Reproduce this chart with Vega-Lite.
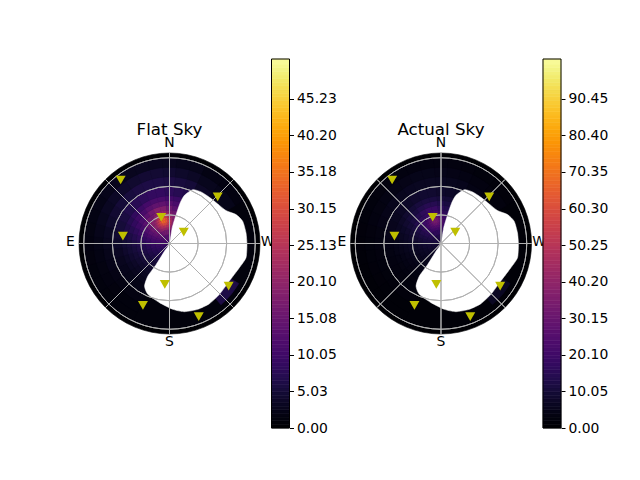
{
"$schema": "https://vega.github.io/schema/vega-lite/v6.json",
"padding": {"left": 66, "top": 58, "right": 0, "bottom": 0},
"bounds": "flush",
"background": "white",
"config": {"font": "DejaVu Sans"},
"datasets": {
"sky": [
{"a":0,"a2":360,"r":90,"r2":95,"v":0},
{"a":0,"a2":360,"r":0,"r2":90,"v":0.9},
{"a":15,"a2":25,"r":50,"r2":60,"v":6.5},{"a":15,"a2":25,"r":60,"r2":70,"v":4.8},{"a":15,"a2":25,"r":70,"r2":80,"v":3.3},{"a":15,"a2":25,"r":80,"r2":90,"v":2.3},
{"a":25,"a2":40,"r":60,"r2":70,"v":3.5},{"a":25,"a2":40,"r":70,"r2":80,"v":2.6},{"a":25,"a2":40,"r":80,"r2":90,"v":1.7},
{"a":40,"a2":60,"r":65,"r2":80,"v":2.2},{"a":40,"a2":60,"r":80,"r2":90,"v":1.3},
{"a":120,"a2":140,"r":72,"r2":84,"v":6},
{"a":205,"a2":225,"r":0,"r2":5,"v":8.9},{"a":225,"a2":235,"r":0,"r2":5,"v":9},{"a":235,"a2":245,"r":0,"r2":5,"v":9.1},{"a":245,"a2":255,"r":0,"r2":5,"v":9.4},{"a":255,"a2":265,"r":0,"r2":5,"v":9.6},{"a":265,"a2":275,"r":0,"r2":5,"v":9.7},{"a":275,"a2":285,"r":0,"r2":5,"v":10},{"a":285,"a2":295,"r":0,"r2":5,"v":10.2},{"a":295,"a2":305,"r":0,"r2":5,"v":10.4},{"a":305,"a2":315,"r":0,"r2":5,"v":10.4},{"a":315,"a2":325,"r":0,"r2":5,"v":10.6},{"a":325,"a2":335,"r":0,"r2":5,"v":10.7},{"a":335,"a2":345,"r":0,"r2":5,"v":10.7},{"a":345,"a2":355,"r":0,"r2":5,"v":10.7},{"a":355,"a2":365,"r":0,"r2":5,"v":10.7},{"a":365,"a2":375,"r":0,"r2":5,"v":10.6},
{"a":205,"a2":225,"r":5,"r2":10,"v":7.8},{"a":225,"a2":235,"r":5,"r2":10,"v":8.2},{"a":235,"a2":245,"r":5,"r2":10,"v":8.5},{"a":245,"a2":255,"r":5,"r2":10,"v":8.9},{"a":255,"a2":265,"r":5,"r2":10,"v":9.3},{"a":265,"a2":275,"r":5,"r2":10,"v":9.7},{"a":275,"a2":285,"r":5,"r2":10,"v":10.3},{"a":285,"a2":295,"r":5,"r2":10,"v":10.8},{"a":295,"a2":305,"r":5,"r2":10,"v":11.2},{"a":305,"a2":315,"r":5,"r2":10,"v":11.7},{"a":315,"a2":325,"r":5,"r2":10,"v":12.2},{"a":325,"a2":335,"r":5,"r2":10,"v":12.6},{"a":335,"a2":345,"r":5,"r2":10,"v":12.8},{"a":345,"a2":355,"r":5,"r2":10,"v":12.8},{"a":355,"a2":365,"r":5,"r2":10,"v":12.6},{"a":365,"a2":375,"r":5,"r2":10,"v":12.2},
{"a":205,"a2":225,"r":10,"r2":15,"v":6.9},{"a":225,"a2":235,"r":10,"r2":15,"v":7.1},{"a":235,"a2":245,"r":10,"r2":15,"v":7.7},{"a":245,"a2":255,"r":10,"r2":15,"v":8.2},{"a":255,"a2":265,"r":10,"r2":15,"v":8.8},{"a":265,"a2":275,"r":10,"r2":15,"v":9.6},{"a":275,"a2":285,"r":10,"r2":15,"v":10.2},{"a":285,"a2":295,"r":10,"r2":15,"v":11.2},{"a":295,"a2":305,"r":10,"r2":15,"v":12.4},{"a":305,"a2":315,"r":10,"r2":15,"v":13.6},{"a":315,"a2":325,"r":10,"r2":15,"v":14.6},{"a":325,"a2":335,"r":10,"r2":15,"v":15.5},{"a":335,"a2":345,"r":10,"r2":15,"v":16.1},{"a":345,"a2":355,"r":10,"r2":15,"v":16.1},{"a":355,"a2":365,"r":10,"r2":15,"v":15.4},{"a":365,"a2":375,"r":10,"r2":15,"v":14.5},
{"a":205,"a2":225,"r":15,"r2":20,"v":6},{"a":225,"a2":235,"r":15,"r2":20,"v":6.4},{"a":235,"a2":245,"r":15,"r2":20,"v":6.8},{"a":245,"a2":255,"r":15,"r2":20,"v":7.4},{"a":255,"a2":265,"r":15,"r2":20,"v":8.2},{"a":265,"a2":275,"r":15,"r2":20,"v":9},{"a":275,"a2":285,"r":15,"r2":20,"v":10.1},{"a":285,"a2":295,"r":15,"r2":20,"v":11.2},{"a":295,"a2":305,"r":15,"r2":20,"v":13},{"a":305,"a2":315,"r":15,"r2":20,"v":14.8},{"a":315,"a2":325,"r":15,"r2":20,"v":17.4},{"a":365,"a2":375,"r":15,"r2":20,"v":17.1},
{"a":205,"a2":225,"r":20,"r2":25,"v":5.2},{"a":225,"a2":235,"r":20,"r2":25,"v":5.7},{"a":235,"a2":245,"r":20,"r2":25,"v":6},{"a":245,"a2":255,"r":20,"r2":25,"v":6.6},{"a":255,"a2":265,"r":20,"r2":25,"v":7.3},{"a":265,"a2":275,"r":20,"r2":25,"v":8.3},{"a":275,"a2":285,"r":20,"r2":25,"v":9.4},{"a":285,"a2":295,"r":20,"r2":25,"v":10.9},{"a":295,"a2":305,"r":20,"r2":25,"v":12.7},{"a":305,"a2":315,"r":20,"r2":25,"v":15.1},{"a":315,"a2":325,"r":20,"r2":25,"v":19.1},{"a":365,"a2":375,"r":20,"r2":25,"v":18.7},
{"a":205,"a2":225,"r":25,"r2":30,"v":4.6},{"a":225,"a2":235,"r":25,"r2":30,"v":4.9},{"a":235,"a2":245,"r":25,"r2":30,"v":5.3},{"a":245,"a2":255,"r":25,"r2":30,"v":5.8},{"a":255,"a2":265,"r":25,"r2":30,"v":6.5},{"a":265,"a2":275,"r":25,"r2":30,"v":7.4},{"a":275,"a2":285,"r":25,"r2":30,"v":8.5},{"a":285,"a2":295,"r":25,"r2":30,"v":10},{"a":295,"a2":305,"r":25,"r2":30,"v":11.7},{"a":305,"a2":315,"r":25,"r2":30,"v":14.4},{"a":315,"a2":325,"r":25,"r2":30,"v":18.5},{"a":365,"a2":375,"r":25,"r2":30,"v":17.9},
{"a":205,"a2":225,"r":30,"r2":35,"v":3.9},{"a":225,"a2":235,"r":30,"r2":35,"v":4.4},{"a":235,"a2":245,"r":30,"r2":35,"v":4.7},{"a":245,"a2":255,"r":30,"r2":35,"v":5.2},{"a":255,"a2":265,"r":30,"r2":35,"v":5.8},{"a":265,"a2":275,"r":30,"r2":35,"v":6.5},{"a":275,"a2":285,"r":30,"r2":35,"v":7.6},{"a":285,"a2":295,"r":30,"r2":35,"v":8.9},{"a":295,"a2":305,"r":30,"r2":35,"v":10.6},{"a":305,"a2":315,"r":30,"r2":35,"v":12.9},{"a":315,"a2":325,"r":30,"r2":35,"v":15.7},{"a":365,"a2":375,"r":30,"r2":35,"v":15.3},
{"a":325,"a2":330,"r":15,"r2":17.5,"v":18.8},{"a":330,"a2":335,"r":15,"r2":17.5,"v":19.8},{"a":335,"a2":340,"r":15,"r2":17.5,"v":20.4},{"a":340,"a2":345,"r":15,"r2":17.5,"v":20.8},{"a":345,"a2":350,"r":15,"r2":17.5,"v":20.9},{"a":350,"a2":355,"r":15,"r2":17.5,"v":20.7},{"a":355,"a2":360,"r":15,"r2":17.5,"v":20},{"a":360,"a2":365,"r":15,"r2":17.5,"v":19},
{"a":325,"a2":330,"r":17.5,"r2":20,"v":21},{"a":330,"a2":335,"r":17.5,"r2":20,"v":22.6},{"a":335,"a2":340,"r":17.5,"r2":20,"v":23.6},{"a":340,"a2":345,"r":17.5,"r2":20,"v":24.5},{"a":345,"a2":350,"r":17.5,"r2":20,"v":24.6},{"a":350,"a2":355,"r":17.5,"r2":20,"v":24},{"a":355,"a2":360,"r":17.5,"r2":20,"v":23},{"a":360,"a2":365,"r":17.5,"r2":20,"v":21.5},
{"a":325,"a2":330,"r":20,"r2":22.5,"v":22.2},{"a":330,"a2":335,"r":20,"r2":22.5,"v":24.7},{"a":335,"a2":340,"r":20,"r2":22.5,"v":27},{"a":340,"a2":345,"r":20,"r2":22.5,"v":29},{"a":345,"a2":350,"r":20,"r2":22.5,"v":29.4},{"a":350,"a2":355,"r":20,"r2":22.5,"v":28},{"a":355,"a2":360,"r":20,"r2":22.5,"v":25.5},{"a":360,"a2":365,"r":20,"r2":22.5,"v":23.4},
{"a":325,"a2":330,"r":22.5,"r2":25,"v":22.3},{"a":330,"a2":335,"r":22.5,"r2":25,"v":25.5},{"a":335,"a2":340,"r":22.5,"r2":25,"v":29.6},{"a":340,"a2":345,"r":22.5,"r2":25,"v":33},{"a":345,"a2":350,"r":22.5,"r2":25,"v":33.3},{"a":350,"a2":355,"r":22.5,"r2":25,"v":31},{"a":355,"a2":360,"r":22.5,"r2":25,"v":27},{"a":360,"a2":365,"r":22.5,"r2":25,"v":23.7},
{"a":325,"a2":330,"r":25,"r2":27.5,"v":21.1},{"a":330,"a2":335,"r":25,"r2":27.5,"v":24.5},{"a":335,"a2":340,"r":25,"r2":27.5,"v":28.8},{"a":340,"a2":345,"r":25,"r2":27.5,"v":33},{"a":345,"a2":350,"r":25,"r2":27.5,"v":33.3},{"a":350,"a2":355,"r":25,"r2":27.5,"v":30.6},{"a":355,"a2":360,"r":25,"r2":27.5,"v":26.2},{"a":360,"a2":365,"r":25,"r2":27.5,"v":22.4},
{"a":325,"a2":330,"r":27.5,"r2":30,"v":19},{"a":330,"a2":335,"r":27.5,"r2":30,"v":22.3},{"a":335,"a2":340,"r":27.5,"r2":30,"v":25.5},{"a":340,"a2":345,"r":27.5,"r2":30,"v":28.8},{"a":345,"a2":350,"r":27.5,"r2":30,"v":29.4},{"a":350,"a2":355,"r":27.5,"r2":30,"v":27},{"a":355,"a2":360,"r":27.5,"r2":30,"v":23.9},{"a":360,"a2":365,"r":27.5,"r2":30,"v":20.4},
{"a":325,"a2":330,"r":30,"r2":32.5,"v":17},{"a":330,"a2":335,"r":30,"r2":32.5,"v":19.5},{"a":335,"a2":340,"r":30,"r2":32.5,"v":22.5},{"a":340,"a2":345,"r":30,"r2":32.5,"v":24.3},{"a":345,"a2":350,"r":30,"r2":32.5,"v":24.5},{"a":350,"a2":355,"r":30,"r2":32.5,"v":23.4},{"a":355,"a2":360,"r":30,"r2":32.5,"v":20.8},{"a":360,"a2":365,"r":30,"r2":32.5,"v":18.2},
{"a":325,"a2":330,"r":32.5,"r2":35,"v":15.5},{"a":330,"a2":335,"r":32.5,"r2":35,"v":17.1},{"a":335,"a2":340,"r":32.5,"r2":35,"v":18.9},{"a":340,"a2":345,"r":32.5,"r2":35,"v":20.5},{"a":345,"a2":350,"r":32.5,"r2":35,"v":20.8},{"a":350,"a2":355,"r":32.5,"r2":35,"v":19.8},{"a":355,"a2":360,"r":32.5,"r2":35,"v":18},{"a":360,"a2":365,"r":32.5,"r2":35,"v":16.2},
{"a":205,"a2":225,"r":35,"r2":40,"v":3.4},{"a":225,"a2":235,"r":35,"r2":40,"v":3.7},{"a":235,"a2":245,"r":35,"r2":40,"v":4.1},{"a":245,"a2":255,"r":35,"r2":40,"v":4.6},{"a":255,"a2":265,"r":35,"r2":40,"v":5.1},{"a":265,"a2":275,"r":35,"r2":40,"v":5.8},{"a":275,"a2":285,"r":35,"r2":40,"v":6.7},{"a":285,"a2":295,"r":35,"r2":40,"v":7.8},{"a":295,"a2":305,"r":35,"r2":40,"v":9.3},{"a":305,"a2":315,"r":35,"r2":40,"v":11},{"a":315,"a2":325,"r":35,"r2":40,"v":13.3},{"a":325,"a2":335,"r":35,"r2":40,"v":15.7},{"a":335,"a2":345,"r":35,"r2":40,"v":18.1},{"a":345,"a2":355,"r":35,"r2":40,"v":17.8},{"a":355,"a2":365,"r":35,"r2":40,"v":15.4},{"a":365,"a2":375,"r":35,"r2":40,"v":13.1},
{"a":205,"a2":225,"r":40,"r2":45,"v":2.9},{"a":225,"a2":235,"r":40,"r2":45,"v":3.1},{"a":235,"a2":245,"r":40,"r2":45,"v":3.5},{"a":245,"a2":255,"r":40,"r2":45,"v":4},{"a":255,"a2":265,"r":40,"r2":45,"v":4.5},{"a":265,"a2":275,"r":40,"r2":45,"v":5.1},{"a":275,"a2":285,"r":40,"r2":45,"v":5.9},{"a":285,"a2":295,"r":40,"r2":45,"v":6.9},{"a":295,"a2":305,"r":40,"r2":45,"v":8.2},{"a":305,"a2":315,"r":40,"r2":45,"v":9.6},{"a":315,"a2":325,"r":40,"r2":45,"v":11},{"a":325,"a2":335,"r":40,"r2":45,"v":12.8},{"a":335,"a2":345,"r":40,"r2":45,"v":13.9},{"a":345,"a2":355,"r":40,"r2":45,"v":13.9},{"a":355,"a2":365,"r":40,"r2":45,"v":12.6},{"a":365,"a2":375,"r":40,"r2":45,"v":11},
{"a":205,"a2":225,"r":45,"r2":50,"v":2.4},{"a":225,"a2":235,"r":45,"r2":50,"v":2.7},{"a":235,"a2":245,"r":45,"r2":50,"v":3},{"a":245,"a2":255,"r":45,"r2":50,"v":3.4},{"a":255,"a2":265,"r":45,"r2":50,"v":3.9},{"a":265,"a2":275,"r":45,"r2":50,"v":4.5},{"a":275,"a2":285,"r":45,"r2":50,"v":5.2},{"a":285,"a2":295,"r":45,"r2":50,"v":6},{"a":295,"a2":305,"r":45,"r2":50,"v":7},{"a":305,"a2":315,"r":45,"r2":50,"v":8.2},{"a":315,"a2":325,"r":45,"r2":50,"v":9.3},{"a":325,"a2":335,"r":45,"r2":50,"v":10.4},{"a":335,"a2":345,"r":45,"r2":50,"v":11},{"a":345,"a2":355,"r":45,"r2":50,"v":11},{"a":355,"a2":365,"r":45,"r2":50,"v":10.2},{"a":365,"a2":375,"r":45,"r2":50,"v":9.2},
{"a":205,"a2":225,"r":50,"r2":60,"v":2},{"a":225,"a2":235,"r":50,"r2":60,"v":2.2},{"a":235,"a2":245,"r":50,"r2":60,"v":2.4},{"a":245,"a2":255,"r":50,"r2":60,"v":2.7},{"a":255,"a2":265,"r":50,"r2":60,"v":3.1},{"a":265,"a2":275,"r":50,"r2":60,"v":3.7},{"a":275,"a2":285,"r":50,"r2":60,"v":4.3},{"a":285,"a2":295,"r":50,"r2":60,"v":4.9},{"a":295,"a2":305,"r":50,"r2":60,"v":5.6},{"a":305,"a2":315,"r":50,"r2":60,"v":6.4},{"a":315,"a2":325,"r":50,"r2":60,"v":7.2},{"a":325,"a2":335,"r":50,"r2":60,"v":7.9},{"a":335,"a2":345,"r":50,"r2":60,"v":8.4},{"a":345,"a2":355,"r":50,"r2":60,"v":8.4},{"a":355,"a2":365,"r":50,"r2":60,"v":7.8},{"a":365,"a2":375,"r":50,"r2":60,"v":7.1},
{"a":205,"a2":225,"r":60,"r2":70,"v":1.5},{"a":225,"a2":235,"r":60,"r2":70,"v":1.6},{"a":235,"a2":245,"r":60,"r2":70,"v":1.8},{"a":245,"a2":255,"r":60,"r2":70,"v":2.1},{"a":255,"a2":265,"r":60,"r2":70,"v":2.3},{"a":265,"a2":275,"r":60,"r2":70,"v":2.7},{"a":275,"a2":285,"r":60,"r2":70,"v":3},{"a":285,"a2":295,"r":60,"r2":70,"v":3.7},{"a":295,"a2":305,"r":60,"r2":70,"v":4.3},{"a":305,"a2":315,"r":60,"r2":70,"v":4.8},{"a":315,"a2":325,"r":60,"r2":70,"v":5.2},{"a":325,"a2":335,"r":60,"r2":70,"v":5.7},{"a":335,"a2":345,"r":60,"r2":70,"v":5.9},{"a":345,"a2":355,"r":60,"r2":70,"v":5.9},{"a":355,"a2":365,"r":60,"r2":70,"v":5.7},{"a":365,"a2":375,"r":60,"r2":70,"v":5.2},
{"a":205,"a2":225,"r":70,"r2":80,"v":1},{"a":225,"a2":235,"r":70,"r2":80,"v":1.1},{"a":235,"a2":245,"r":70,"r2":80,"v":1.3},{"a":245,"a2":255,"r":70,"r2":80,"v":1.5},{"a":255,"a2":265,"r":70,"r2":80,"v":1.7},{"a":265,"a2":275,"r":70,"r2":80,"v":2},{"a":275,"a2":285,"r":70,"r2":80,"v":2.3},{"a":285,"a2":295,"r":70,"r2":80,"v":2.6},{"a":295,"a2":305,"r":70,"r2":80,"v":3},{"a":305,"a2":315,"r":70,"r2":80,"v":3.4},{"a":315,"a2":325,"r":70,"r2":80,"v":3.8},{"a":325,"a2":335,"r":70,"r2":80,"v":4.1},{"a":335,"a2":345,"r":70,"r2":80,"v":4.4},{"a":345,"a2":355,"r":70,"r2":80,"v":4.4},{"a":355,"a2":365,"r":70,"r2":80,"v":4.2},{"a":365,"a2":375,"r":70,"r2":80,"v":3.7},
{"a":205,"a2":225,"r":80,"r2":90,"v":0.9},{"a":225,"a2":235,"r":80,"r2":90,"v":0.9},{"a":235,"a2":245,"r":80,"r2":90,"v":1},{"a":245,"a2":255,"r":80,"r2":90,"v":1},{"a":255,"a2":265,"r":80,"r2":90,"v":1.1},{"a":265,"a2":275,"r":80,"r2":90,"v":1.3},{"a":275,"a2":285,"r":80,"r2":90,"v":1.5},{"a":285,"a2":295,"r":80,"r2":90,"v":1.7},{"a":295,"a2":305,"r":80,"r2":90,"v":2},{"a":305,"a2":315,"r":80,"r2":90,"v":2.3},{"a":315,"a2":325,"r":80,"r2":90,"v":2.5},{"a":325,"a2":335,"r":80,"r2":90,"v":2.7},{"a":335,"a2":345,"r":80,"r2":90,"v":2.8},{"a":345,"a2":355,"r":80,"r2":90,"v":2.8},{"a":355,"a2":365,"r":80,"r2":90,"v":2.7},{"a":365,"a2":375,"r":80,"r2":90,"v":2.4}
],
"mask": [
{"i":0,"x":0,"y":0},{"i":1,"x":2.8,"y":16.4},{"i":2,"x":7,"y":30.4},{"i":3,"x":11.2,"y":42.6},{"i":4,"x":15.7,"y":50.6},{"i":5,"x":24.4,"y":56.5},{"i":6,"x":33.2,"y":54.1},{"i":7,"x":41.9,"y":48.5},{"i":8,"x":50.6,"y":41.5},{"i":9,"x":59.3,"y":34.6},{"i":10,"x":69.8,"y":30.4},{"i":11,"x":76.8,"y":23.4},{"i":12,"x":80.3,"y":11.2},{"i":13,"x":81.3,"y":-1},{"i":14,"x":80.3,"y":-15},{"i":15,"x":73.3,"y":-25.5},{"i":16,"x":62.8,"y":-39.4},{"i":17,"x":52.4,"y":-53.4},{"i":18,"x":41.9,"y":-63.2},{"i":19,"x":29.7,"y":-69.1},{"i":20,"x":15.7,"y":-71.6},{"i":21,"x":3.5,"y":-69.1},{"i":22,"x":-10.5,"y":-62.1},{"i":23,"x":-22.7,"y":-53.4},{"i":24,"x":-26.2,"y":-44.7},{"i":25,"x":-22.7,"y":-34.2},{"i":26,"x":-14,"y":-22},{"i":27,"x":-5.2,"y":-8}
],
"grid": [
{"a":0,"a2":360,"r":30,"r2":30},{"a":0,"a2":360,"r":60,"r2":60},{"a":0,"a2":360,"r":90,"r2":90},
{"a":0,"a2":0,"r":0,"r2":95},{"a":45,"a2":45,"r":0,"r2":95},{"a":90,"a2":90,"r":0,"r2":95},{"a":135,"a2":135,"r":0,"r2":95},{"a":180,"a2":180,"r":0,"r2":95},{"a":225,"a2":225,"r":0,"r2":95},{"a":270,"a2":270,"r":0,"r2":95},{"a":315,"a2":315,"r":0,"r2":95}
],
"stars": [
{"x":-51.3,"y":66.7},{"x":50.6,"y":48.9},{"x":-8.7,"y":27.6},{"x":15,"y":11.9},{"x":-48.9,"y":7.7},{"x":-4.9,"y":-42.9},{"x":62.1,"y":-44.7},{"x":-27.9,"y":-64.9},{"x":30.7,"y":-76.8}
],
"compass": [
{"x":0,"y":106,"t":"N"},{"x":-104,"y":2,"t":"E"},{"x":0,"y":-103,"t":"S"},{"x":103,"y":2,"t":"W"}
],
"frame1": [{"v":0,"v2":50.7}],
"frame2": [{"v":0,"v2":101.4}],
"bar1": [
{"v":0,"v2":0.5},{"v":0.5,"v2":1},{"v":1,"v2":1.5},{"v":1.5,"v2":2},{"v":2,"v2":2.5},{"v":2.5,"v2":3},{"v":3,"v2":3.5},{"v":3.5,"v2":4},{"v":4,"v2":4.5},{"v":4.5,"v2":5},{"v":5,"v2":5.5},{"v":5.5,"v2":6},{"v":6,"v2":6.5},{"v":6.5,"v2":7},{"v":7,"v2":7.5},{"v":7.5,"v2":8},{"v":8,"v2":8.5},{"v":8.5,"v2":9},{"v":9,"v2":9.5},{"v":9.5,"v2":10},{"v":10,"v2":10.5},{"v":10.5,"v2":11},{"v":11,"v2":11.5},{"v":11.5,"v2":12},{"v":12,"v2":12.5},{"v":12.5,"v2":13},{"v":13,"v2":13.5},{"v":13.5,"v2":14},{"v":14,"v2":14.5},{"v":14.5,"v2":15},{"v":15,"v2":15.5},{"v":15.5,"v2":16},{"v":16,"v2":16.5},{"v":16.5,"v2":17},{"v":17,"v2":17.5},{"v":17.5,"v2":18},{"v":18,"v2":18.5},{"v":18.5,"v2":19},{"v":19,"v2":19.5},{"v":19.5,"v2":20},{"v":20,"v2":20.5},{"v":20.5,"v2":21},{"v":21,"v2":21.5},{"v":21.5,"v2":22},{"v":22,"v2":22.5},{"v":22.5,"v2":23},{"v":23,"v2":23.5},{"v":23.5,"v2":24},{"v":24,"v2":24.5},{"v":24.5,"v2":25},{"v":25,"v2":25.5},{"v":25.5,"v2":26},{"v":26,"v2":26.5},{"v":26.5,"v2":27},{"v":27,"v2":27.5},{"v":27.5,"v2":28},{"v":28,"v2":28.5},{"v":28.5,"v2":29},{"v":29,"v2":29.5},{"v":29.5,"v2":30},{"v":30,"v2":30.5},{"v":30.5,"v2":31},{"v":31,"v2":31.5},{"v":31.5,"v2":32},{"v":32,"v2":32.5},{"v":32.5,"v2":33},{"v":33,"v2":33.5},{"v":33.5,"v2":34},{"v":34,"v2":34.5},{"v":34.5,"v2":35},{"v":35,"v2":35.5},{"v":35.5,"v2":36},{"v":36,"v2":36.5},{"v":36.5,"v2":37},{"v":37,"v2":37.5},{"v":37.5,"v2":38},{"v":38,"v2":38.5},{"v":38.5,"v2":39},{"v":39,"v2":39.5},{"v":39.5,"v2":40},{"v":40,"v2":40.5},{"v":40.5,"v2":41},{"v":41,"v2":41.5},{"v":41.5,"v2":42},{"v":42,"v2":42.5},{"v":42.5,"v2":43},{"v":43,"v2":43.5},{"v":43.5,"v2":44},{"v":44,"v2":44.5},{"v":44.5,"v2":45},{"v":45,"v2":45.5},{"v":45.5,"v2":46},{"v":46,"v2":46.5},{"v":46.5,"v2":47},{"v":47,"v2":47.5},{"v":47.5,"v2":48},{"v":48,"v2":48.5},{"v":48.5,"v2":49},{"v":49,"v2":49.5},{"v":49.5,"v2":50},{"v":50,"v2":50.7}
],
"bar2": [
{"v":0,"v2":1},{"v":1,"v2":2},{"v":2,"v2":3},{"v":3,"v2":4},{"v":4,"v2":5},{"v":5,"v2":6},{"v":6,"v2":7},{"v":7,"v2":8},{"v":8,"v2":9},{"v":9,"v2":10},{"v":10,"v2":11},{"v":11,"v2":12},{"v":12,"v2":13},{"v":13,"v2":14},{"v":14,"v2":15},{"v":15,"v2":16},{"v":16,"v2":17},{"v":17,"v2":18},{"v":18,"v2":19},{"v":19,"v2":20},{"v":20,"v2":21},{"v":21,"v2":22},{"v":22,"v2":23},{"v":23,"v2":24},{"v":24,"v2":25},{"v":25,"v2":26},{"v":26,"v2":27},{"v":27,"v2":28},{"v":28,"v2":29},{"v":29,"v2":30},{"v":30,"v2":31},{"v":31,"v2":32},{"v":32,"v2":33},{"v":33,"v2":34},{"v":34,"v2":35},{"v":35,"v2":36},{"v":36,"v2":37},{"v":37,"v2":38},{"v":38,"v2":39},{"v":39,"v2":40},{"v":40,"v2":41},{"v":41,"v2":42},{"v":42,"v2":43},{"v":43,"v2":44},{"v":44,"v2":45},{"v":45,"v2":46},{"v":46,"v2":47},{"v":47,"v2":48},{"v":48,"v2":49},{"v":49,"v2":50},{"v":50,"v2":51},{"v":51,"v2":52},{"v":52,"v2":53},{"v":53,"v2":54},{"v":54,"v2":55},{"v":55,"v2":56},{"v":56,"v2":57},{"v":57,"v2":58},{"v":58,"v2":59},{"v":59,"v2":60},{"v":60,"v2":61},{"v":61,"v2":62},{"v":62,"v2":63},{"v":63,"v2":64},{"v":64,"v2":65},{"v":65,"v2":66},{"v":66,"v2":67},{"v":67,"v2":68},{"v":68,"v2":69},{"v":69,"v2":70},{"v":70,"v2":71},{"v":71,"v2":72},{"v":72,"v2":73},{"v":73,"v2":74},{"v":74,"v2":75},{"v":75,"v2":76},{"v":76,"v2":77},{"v":77,"v2":78},{"v":78,"v2":79},{"v":79,"v2":80},{"v":80,"v2":81},{"v":81,"v2":82},{"v":82,"v2":83},{"v":83,"v2":84},{"v":84,"v2":85},{"v":85,"v2":86},{"v":86,"v2":87},{"v":87,"v2":88},{"v":88,"v2":89},{"v":89,"v2":90},{"v":90,"v2":91},{"v":91,"v2":92},{"v":92,"v2":93},{"v":93,"v2":94},{"v":94,"v2":95},{"v":95,"v2":96},{"v":96,"v2":97},{"v":97,"v2":98},{"v":98,"v2":99},{"v":99,"v2":100},{"v":100,"v2":101.4}
]
},
"resolve": {"scale": {"fill": "independent", "stroke": "independent"}},
"spacing": 11.5,
"hconcat": [
{
"width": 181, "height": 369,
"view": {"stroke": null},
"title": {"text": "Flat Sky", "fontSize": 16.7, "fontWeight": "normal", "font": "DejaVu Sans", "color": "black", "offset": -80, "anchor": "middle"},
"layer": [
{"data": {"name": "sky"},
"mark": {"type": "arc", "strokeWidth": 0.6},
"encoding": {
"theta": {"field": "a", "type": "quantitative", "stack": null, "scale": {"domain": [0, 360], "range": [0, 6.2832]}},
"theta2": {"field": "a2"},
"radius": {"field": "r2", "type": "quantitative", "scale": {"type": "linear", "domain": [0, 95], "range": [0, 90.5]}},
"radius2": {"field": "r"},
"fill": {"field": "v", "type": "quantitative", "scale": {"scheme": "inferno", "domain": [0, 50.7]}, "legend": null},
"stroke": {"field": "v", "type": "quantitative", "scale": {"scheme": "inferno", "domain": [0, 50.7]}, "legend": null}
}},
{"data": {"name": "mask"},
"mark": {"type": "line", "interpolate": "cardinal-closed", "tension": 0.4, "fill": "white", "stroke": "white", "strokeWidth": 0.5},
"encoding": {
"x": {"field": "x", "type": "quantitative", "axis": null, "scale": {"domain": [-95, 95], "nice": false, "zero": false}},
"y": {"field": "y", "type": "quantitative", "axis": null, "scale": {"domain": [-193.7, 193.7], "nice": false, "zero": false}},
"order": {"field": "i"}
}},
{"data": {"name": "grid"},
"mark": {"type": "arc", "fill": null, "stroke": "#b0b0b0", "strokeWidth": 1},
"encoding": {
"theta": {"field": "a", "type": "quantitative", "stack": null},
"theta2": {"field": "a2"},
"radius": {"field": "r2", "type": "quantitative"},
"radius2": {"field": "r"}
}},
{"data": {"name": "stars"},
"mark": {"type": "point", "shape": "triangle-down", "filled": true, "opacity": 1, "color": "#bfbf00", "size": 100},
"encoding": {
"x": {"field": "x", "type": "quantitative", "axis": null},
"y": {"field": "y", "type": "quantitative", "axis": null}
}},
{"data": {"name": "compass"},
"mark": {"type": "text", "fontSize": 13.9, "font": "DejaVu Sans", "color": "black", "baseline": "middle"},
"encoding": {
"x": {"field": "x", "type": "quantitative", "axis": null},
"y": {"field": "y", "type": "quantitative", "axis": null},
"text": {"field": "t"}
}}
]
},
{
"width": 18, "height": 369,
"view": {"stroke": null},
"layer": [
{"data": {"name": "bar1"},
"mark": {"type": "rect", "strokeWidth": 0.6},
"encoding": {
"y": {"field": "v", "type": "quantitative", "scale": {"domain": [0, 50.7], "nice": false, "zero": false},
"axis": {"orient": "right", "title": null, "grid": false, "domain": false, "values": [0, 5.03, 10.05, 15.08, 20.1, 25.13, 30.15, 35.18, 40.2, 45.23], "format": ".2f", "labelFontSize": 13.9, "labelFont": "DejaVu Sans", "labelColor": "black", "tickColor": "black", "tickSize": 4, "labelPadding": 3, "labelOverlap": false, "labelFlush": false}},
"y2": {"field": "v2"},
"fill": {"field": "v", "type": "quantitative", "scale": {"scheme": "inferno", "domain": [0, 50.7]}, "legend": null},
"stroke": {"field": "v", "type": "quantitative", "scale": {"scheme": "inferno", "domain": [0, 50.7]}, "legend": null}
}},
{"data": {"name": "frame1"},
"mark": {"type": "rect", "fill": null, "stroke": "black", "strokeWidth": 1},
"encoding": {
"y": {"field": "v", "type": "quantitative"},
"y2": {"field": "v2"}
}}
]
},
{
"width": 37.5, "height": 369,
"view": {"stroke": null},
"data": {"values": []},
"mark": "point"
},
{
"width": 181, "height": 369,
"view": {"stroke": null},
"title": {"text": "Actual Sky", "fontSize": 16.7, "fontWeight": "normal", "font": "DejaVu Sans", "color": "black", "offset": -80, "anchor": "middle"},
"layer": [
{"data": {"name": "sky"},
"mark": {"type": "arc", "strokeWidth": 0.6},
"encoding": {
"theta": {"field": "a", "type": "quantitative", "stack": null, "scale": {"domain": [0, 360], "range": [0, 6.2832]}},
"theta2": {"field": "a2"},
"radius": {"field": "r2", "type": "quantitative", "scale": {"type": "linear", "domain": [0, 95], "range": [0, 90.5]}},
"radius2": {"field": "r"},
"fill": {"field": "v", "type": "quantitative", "scale": {"scheme": "inferno", "domain": [0, 101.4]}, "legend": null},
"stroke": {"field": "v", "type": "quantitative", "scale": {"scheme": "inferno", "domain": [0, 101.4]}, "legend": null}
}},
{"data": {"name": "mask"},
"mark": {"type": "line", "interpolate": "cardinal-closed", "tension": 0.4, "fill": "white", "stroke": "white", "strokeWidth": 0.5},
"encoding": {
"x": {"field": "x", "type": "quantitative", "axis": null, "scale": {"domain": [-95, 95], "nice": false, "zero": false}},
"y": {"field": "y", "type": "quantitative", "axis": null, "scale": {"domain": [-193.7, 193.7], "nice": false, "zero": false}},
"order": {"field": "i"}
}},
{"data": {"name": "grid"},
"mark": {"type": "arc", "fill": null, "stroke": "#b0b0b0", "strokeWidth": 1},
"encoding": {
"theta": {"field": "a", "type": "quantitative", "stack": null},
"theta2": {"field": "a2"},
"radius": {"field": "r2", "type": "quantitative"},
"radius2": {"field": "r"}
}},
{"data": {"name": "stars"},
"mark": {"type": "point", "shape": "triangle-down", "filled": true, "opacity": 1, "color": "#bfbf00", "size": 100},
"encoding": {
"x": {"field": "x", "type": "quantitative", "axis": null},
"y": {"field": "y", "type": "quantitative", "axis": null}
}},
{"data": {"name": "compass"},
"mark": {"type": "text", "fontSize": 13.9, "font": "DejaVu Sans", "color": "black", "baseline": "middle"},
"encoding": {
"x": {"field": "x", "type": "quantitative", "axis": null},
"y": {"field": "y", "type": "quantitative", "axis": null},
"text": {"field": "t"}
}}
]
},
{
"width": 18, "height": 369,
"view": {"stroke": null},
"layer": [
{"data": {"name": "bar2"},
"mark": {"type": "rect", "strokeWidth": 0.6},
"encoding": {
"y": {"field": "v", "type": "quantitative", "scale": {"domain": [0, 101.4], "nice": false, "zero": false},
"axis": {"orient": "right", "title": null, "grid": false, "domain": false, "values": [0, 10.05, 20.1, 30.15, 40.2, 50.25, 60.3, 70.35, 80.4, 90.45], "format": ".2f", "labelFontSize": 13.9, "labelFont": "DejaVu Sans", "labelColor": "black", "tickColor": "black", "tickSize": 4, "labelPadding": 3, "labelOverlap": false, "labelFlush": false}},
"y2": {"field": "v2"},
"fill": {"field": "v", "type": "quantitative", "scale": {"scheme": "inferno", "domain": [0, 101.4]}, "legend": null},
"stroke": {"field": "v", "type": "quantitative", "scale": {"scheme": "inferno", "domain": [0, 101.4]}, "legend": null}
}},
{"data": {"name": "frame2"},
"mark": {"type": "rect", "fill": null, "stroke": "black", "strokeWidth": 1},
"encoding": {
"y": {"field": "v", "type": "quantitative"},
"y2": {"field": "v2"}
}}
]
}
]
}
